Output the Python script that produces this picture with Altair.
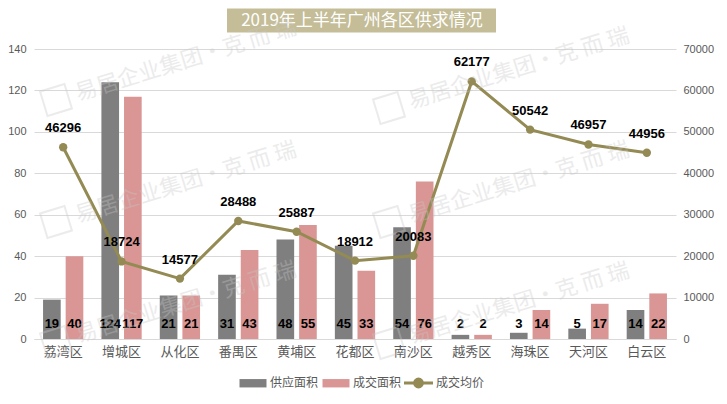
import altair as alt
import pandas as pd

categories = ["荔湾区", "增城区", "从化区", "番禺区", "黄埔区", "花都区",
              "南沙区", "越秀区", "海珠区", "天河区", "白云区"]
supply = [19, 124, 21, 31, 48, 45, 54, 2, 3, 5, 14]
deal = [40, 117, 21, 43, 55, 33, 76, 2, 14, 17, 22]
price = [46296, 18724, 14577, 28488, 25887, 18912, 20083, 62177, 50542, 46957, 44956]
series = ["供应面积", "成交面积"]
line_name = "成交均价"
title_text = "2019年上半年广州各区供求情况"
left_ticks = [0, 20, 40, 60, 80, 100, 120, 140]
right_ticks = [0, 10000, 20000, 30000, 40000, 50000, 60000, 70000]

# watermark (decoration, not data)
wm_text = "易居企业集团·克  而  瑞"
wm_logo_x = [22, 22, 22, 355, 355, 355]
wm_logo_y = [51, 173, 293, 59, 173, 294]

bars_df = pd.DataFrame({
    "区": categories * 2,
    "系列": [series[0]] * len(categories) + [series[1]] * len(categories),
    "值": supply + deal,
})
line_df = pd.DataFrame({
    "区": categories,
    "idx": list(range(len(categories))),
    "系列": [line_name] * len(categories),
    "均价": price,
})
title_df = pd.DataFrame({"t": [title_text]})
wm_df = pd.DataFrame({
    "lx": wm_logo_x, "ly": wm_logo_y,
    "tx": [v + 20 for v in wm_logo_x], "ty": [v - 6 for v in wm_logo_y],
    "t": [wm_text] * len(wm_logo_x),
})

FONT = "Noto Sans CJK SC"
NUMFONT = "Liberation Sans"
GRAY = "#595959"
OLIVE = "#948a54"
BAR_GRAY = "#7f7f7f"
BAR_PINK = "#d99694"

x = alt.X("区:N", sort=categories,
          scale=alt.Scale(paddingInner=0.31, paddingOuter=0.155),
          axis=alt.Axis(title=None, labelAngle=0, ticks=False, domainColor="#d9d9d9",
                        labelFontSize=13, labelColor=GRAY, labelPadding=6, labelFont=FONT))
xo = alt.XOffset("系列:N", sort=series, scale=alt.Scale(paddingInner=0.22, paddingOuter=0))
yl = alt.Y("值:Q", scale=alt.Scale(domain=[0, 140]),
           axis=alt.Axis(title=None, values=left_ticks, ticks=False, domain=False,
                         gridColor="#d9d9d9", labelFontSize=11, labelColor=GRAY,
                         labelPadding=8, labelFont=NUMFONT))

bars = alt.Chart(bars_df).mark_bar().encode(
    x=x, xOffset=xo, y=yl,
    color=alt.Color("系列:N", sort=series,
                    scale=alt.Scale(domain=series, range=[BAR_GRAY, BAR_PINK]),
                    legend=alt.Legend(title=None, orient="none", legendX=205.5, legendY=320.5,
                                      direction="horizontal",
                                      symbolType="M-1,-0.31H1V0.31H-1Z", symbolSize=729,
                                      symbolStrokeWidth=0, labelFontSize=12, labelColor=GRAY,
                                      labelFont=FONT, labelOffset=3.5, columnPadding=4,
                                      padding=0)),
)
bartext = alt.Chart(bars_df).mark_text(
    font=NUMFONT, fontWeight="bold", fontSize=13, color="black", baseline="middle", dy=-15.5
).encode(x=x, xOffset=xo, y=alt.datum(0), text="值:Q")

title_rect = alt.Chart(title_df).mark_rect(color="#c4bd97").encode(
    x=alt.value(193), x2=alt.value(462), y=alt.value(-40.5), y2=alt.value(-16.5))
title_txt = alt.Chart(title_df).mark_text(
    font=FONT, fontSize=17, color="white", baseline="middle", align="center"
).encode(x=alt.value(328), y=alt.value(-28.5), text="t:N")

wm_logo = alt.Chart(wm_df).mark_point(
    shape="square", size=650, filled=False, color="#c8c8c8", strokeWidth=2,
    opacity=0.35, angle=343
).encode(x=alt.X("lx:Q", scale=None), y=alt.Y("ly:Q", scale=None))
wm_txt = alt.Chart(wm_df).mark_text(
    font=FONT, fontSize=22, color="#c8c8c8", opacity=0.35, angle=343,
    align="left", baseline="middle"
).encode(x=alt.X("tx:Q", scale=None), y=alt.Y("ty:Q", scale=None), text="t:N")

left = alt.layer(bars, bartext, title_rect, title_txt)

yr = alt.Y("均价:Q", scale=alt.Scale(domain=[0, 70000]),
           axis=alt.Axis(orient="right", title=None, values=right_ticks, ticks=False,
                         domain=False, grid=False, labelFontSize=11, labelColor=GRAY,
                         labelPadding=7, labelFont=NUMFONT, format="d"))

line = alt.Chart(line_df).mark_line(strokeWidth=3).encode(
    x=x, y=yr, order="idx:Q",
    stroke=alt.Stroke("系列:N", scale=alt.Scale(domain=[line_name], range=[OLIVE]),
                      legend=alt.Legend(title=None, orient="none", legendX=368.5, legendY=318,
                                        direction="horizontal",
                                        symbolType="M-1,0H1M0.27,0A0.27,0.27 0 1,1 -0.27,0A0.27,0.27 0 1,1 0.27,0",
                                        symbolSize=841, symbolStrokeWidth=3,
                                        symbolFillColor=OLIVE, labelFontSize=12,
                                        labelColor=GRAY, labelFont=FONT, labelOffset=1.5,
                                        padding=0)),
)
points = alt.Chart(line_df).mark_point(filled=True, size=70, color=OLIVE, opacity=1).encode(
    x=x, y=yr)
linetext = alt.Chart(line_df).mark_text(
    font=NUMFONT, fontWeight="bold", fontSize=13, color="black", baseline="middle", dy=-19
).encode(x=x, y=yr, text="均价:Q")

right = alt.layer(line, points, linetext)

chart = alt.layer(left, right, wm_logo, wm_txt).resolve_scale(
    y="independent", color="independent", stroke="independent"
).properties(
    width=642, height=290,
    autosize=alt.AutoSizeParams(type="none"),
    padding={"left": 26, "top": 41, "right": 43, "bottom": 50},
    background="white",
).configure_view(stroke=None)

chart.save("out.html", embed_options={"renderer": "svg", "actions": False})
